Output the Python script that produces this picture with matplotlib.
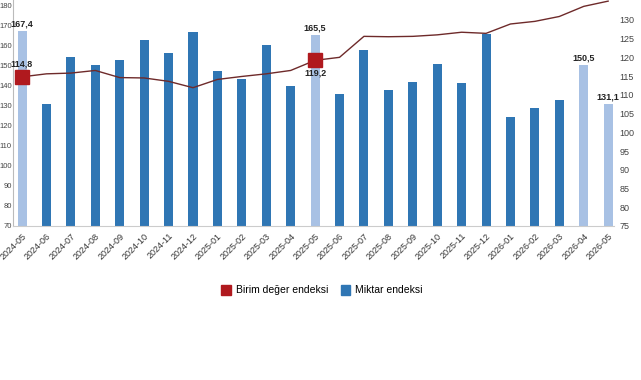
import matplotlib
matplotlib.use("Agg")
import matplotlib.pyplot as plt
from matplotlib.patches import Patch

plt.rcParams['font.family'] = ['Liberation Sans', 'DejaVu Sans']

months = ["2024-05", "2024-06", "2024-07", "2024-08", "2024-09", "2024-10", "2024-11",
          "2024-12", "2025-01", "2025-02", "2025-03", "2025-04", "2025-05", "2025-06",
          "2025-07", "2025-08", "2025-09", "2025-10", "2025-11", "2025-12", "2026-01",
          "2026-02", "2026-03", "2026-04", "2026-05"]

# Miktar endeksi (left axis, bars)
miktar = [167.4, 131.0, 154.7, 150.5, 152.8, 163.0, 156.4, 167.2, 147.6, 143.5, 160.6,
          140.1, 165.5, 135.8, 157.9, 137.9, 142.1, 150.9, 141.3, 165.9, 124.6, 128.8,
          133.0, 150.5, 131.1]

# Birim deger endeksi (right axis, line)
birim = [114.8, 115.6, 115.8, 116.5, 114.6, 114.5, 113.6, 111.9, 114.1, 114.9, 115.6,
         116.5, 119.2, 120.0, 125.6, 125.5, 125.6, 126.0, 126.7, 126.4, 128.9, 129.6,
         130.9, 133.6, 135.0]

highlight = [0, 12, 23, 24]      # light bars with value labels
line_marks = [0, 12]             # red squares with labels

dark_blue = "#2f76b4"
light_blue = "#a8c1e4"
red = "#b0191e"
line_col = "#6e2a2a"

fig = plt.figure(figsize=(6.41, 3.80), dpi=100)
ax = fig.add_axes([13 / 641, 1 - 226 / 380, 601 / 641, 226 / 380])
ax2 = ax.twinx()

x = list(range(len(months)))
colors = [light_blue if i in highlight else dark_blue for i in x]
ax.bar(x, miktar, width=0.37, color=colors, zorder=2)

for i in highlight:
    ax.annotate("{:.1f}".format(miktar[i]).replace(".", ","), (i, miktar[i]),
                xytext=(0, 2), textcoords="offset points", ha="center", va="bottom",
                fontsize=6.5, fontweight="bold", color="#222222")

ax2.plot(x, birim, color=line_col, lw=1.0, zorder=3)
ax2.plot([x[i] for i in line_marks], [birim[i] for i in line_marks], "s",
         color=red, markersize=9.5, zorder=4)
ax2.annotate("114,8", (0, birim[0]), xytext=(0, 6), textcoords="offset points",
             ha="center", va="bottom", fontsize=6.5, fontweight="bold", color="#222222")
ax2.annotate("119,2", (12, birim[12]), xytext=(0, -6), textcoords="offset points",
             ha="center", va="top", fontsize=6.5, fontweight="bold", color="#222222")

ax.set_xlim(-0.37, 24.24)
ax.set_ylim(70, 183)
ax.set_yticks(range(70, 190, 10))
ax2.set_ylim(75, 135.3)
ax2.set_yticks(range(75, 135, 5))

ax.set_xticks(x)
ax.set_xticklabels(months, rotation=45, ha="right", rotation_mode="anchor",
                   fontsize=6.5, color="#333333")
ax.tick_params(axis="x", length=0, pad=4)
ax.tick_params(axis="y", length=0, labelsize=5.5, labelcolor="#444444", pad=1)
ax2.tick_params(axis="y", length=0, labelsize=6.5, labelcolor="#444444", pad=4)

for s in ["top", "right"]:
    ax.spines[s].set_visible(False)
for s in ax2.spines:
    ax2.spines[s].set_visible(False)
ax.spines["left"].set_color("#bbbbbb")
ax.spines["bottom"].set_color("#cccccc")

handles = [Patch(color=red, label="Birim değer endeksi"),
           Patch(color=dark_blue, label="Miktar endeksi")]
fig.legend(handles=handles, loc="center", bbox_to_anchor=(322 / 641, 1 - 290 / 380),
           ncol=2, frameon=False, fontsize=7.5, handlelength=0.9, handleheight=1.1,
           columnspacing=1.2, handletextpad=0.5)

fig.savefig("out.png", dpi=100, facecolor="white")
